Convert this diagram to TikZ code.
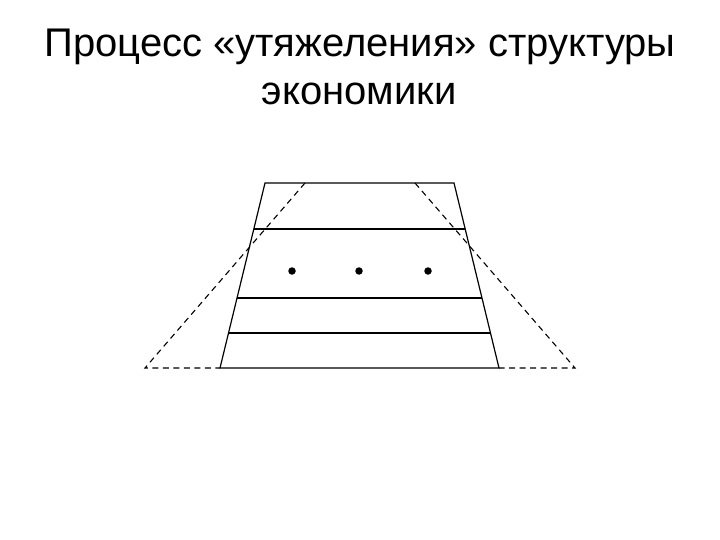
\documentclass[tikz,border=0pt]{standalone}
\usepackage{fontspec}
\setmainfont{Liberation Sans}
\usepackage{tikz}
\usetikzlibrary{positioning}

\begin{document}
\begin{tikzpicture}[
    x=1pt, y=-1pt,
    title/.style={anchor=base, inner sep=0pt, font=\fontsize{40}{48}\selectfont},
    layer/.style={line width=1.2pt},
    guide/.style={dashed, line width=1.1pt, dash pattern=on 6pt off 4.5pt},
    dotmark/.style={circle, fill=black, inner sep=0pt, minimum size=7.5pt}
]
\useasboundingbox (0,0) rectangle (720,540);

% Title
\node[title] (line1) at (360,57) {Процесс «утяжеления» структуры};
\node[title] (line2) at (359,105) {экономики};

% Corners of the trapezoid
\coordinate (tl) at (265,183);
\coordinate (tr) at (454,183);
\coordinate (bl) at (220,368);
\coordinate (br) at (499,368);

% Outer dashed pyramid
\coordinate (dtl) at (305,183);
\coordinate (dtr) at (415,183);
\coordinate (dbl) at (145,368);
\coordinate (dbr) at (575,368);

% Trapezoid outline
\draw[layer] (tl) -- (tr) -- (br) -- (bl) -- cycle;

% Layers
\foreach \yy/\nm in {229/a, 298/b, 333/c} {
    \path (tl) -- (bl) coordinate[pos={(\yy-183)/185}] (l\nm);
    \path (tr) -- (br) coordinate[pos={(\yy-183)/185}] (r\nm);
    \draw[layer] (l\nm) -- (r\nm);
}

% Dashed lines
\draw[guide] (dtl) -- (dbl) -- (bl);
\draw[guide] (dtr) -- (dbr) -- (br);

% Dots
\node[dotmark] (d1) at (292,271) {};
\node[dotmark] (d2) at (359,271) {};
\node[dotmark] (d3) at (428,271) {};

\end{tikzpicture}
\end{document}
